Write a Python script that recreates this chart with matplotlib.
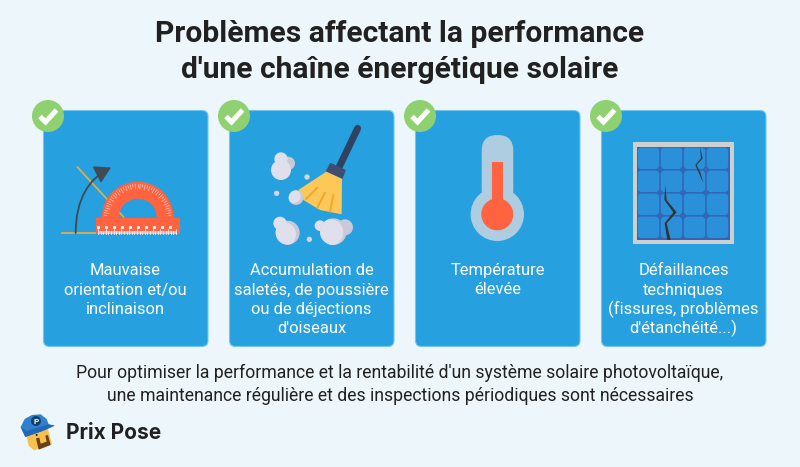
import numpy as np
import matplotlib
matplotlib.use('Agg')
import matplotlib.pyplot as plt
from matplotlib.patches import Circle, FancyBboxPatch, Polygon, Rectangle, Wedge, FancyArrowPatch
from matplotlib.path import Path

plt.rcParams['font.family'] = ['Roboto', 'DejaVu Sans']

BG = '#edf6fa'
CARD = '#27a0df'
CARD_EDGE = '#74c6f0'
GREEN = '#8fd170'
RED = '#ff6340'
CLOUD = '#e0e0ec'
CLOUD_DARK = '#c9c9da'
INK = '#212121'

title_lines = ["Problèmes affectant la performance", "d'une chaîne énergétique solaire"]
title_y = [33.5, 69.5]
card_left = [43, 229, 415, 601]
card_labels = [
    ["Mauvaise", "orientation et/ou", "inclinaison"],
    ["Accumulation de", "saletés, de poussière", "ou de déjections", "d'oiseaux"],
    ["Température", "élevée"],
    ["Défaillances", "techniques", "(fissures, problèmes", "d'étanchéité...)"],
]
label_y = [270.5, 290, 309.5, 328.5]
footer_lines = ["Pour optimiser la performance et la rentabilité d'un système solaire photovoltaïque,",
                "une maintenance régulière et des inspections périodiques sont nécessaires"]
footer_y = [373, 396]
brand = "Prix Pose"

fig = plt.figure(figsize=(8, 4.67), dpi=100, facecolor=BG)
ax = fig.add_axes([0, 0, 1, 1])
ax.set_xlim(0, 800)
ax.set_ylim(467, 0)
ax.axis('off')


# les icones sont relevees sur des zooms x3 du modele
def broom_xy(x, y):
    return 220 + x / 3, 95 + y / 3


def panel_xy(x, y):
    return 410 + x / 3, 95 + y / 3


def logo_xy(x, y):
    return 10 + x / 3, 405 + y / 3


def blob(x, y, r, color, z):
    p = Circle(broom_xy(x, y), r / 3, fc=color, ec='none', zorder=z)
    ax.add_patch(p)
    return p


for t, y in zip(title_lines, title_y):
    ax.text(400, y, t, ha='center', va='center', fontsize=21.6, fontweight='bold', color=INK)

# --- cartes ---
for x, lines in zip(card_left, card_labels):
    ax.add_patch(FancyBboxPatch((x + 0.5, 110.5), 164.5, 236, boxstyle='round,pad=0,rounding_size=6',
                                fc=CARD, ec=CARD_EDGE, lw=0.8, zorder=1))
    for line, y in zip(lines, label_y):
        ax.text(x + 82.5, y, line, ha='center', va='center', fontsize=11.85, color='white', zorder=5)
    cx, cy = x + 5, 116
    ax.add_patch(Circle((cx, cy), 16, fc=GREEN, ec='none', zorder=6))
    ax.plot([cx - 8, cx - 2.5, cx + 8.5], [cy + 0.5, cy + 6, cy - 6], color='white', lw=3.6,
            solid_joinstyle='miter', solid_capstyle='butt', zorder=7)

# --- rapporteur ---
ax.plot([62.3, 97], [233.3, 233.3], color='#f0ad3c', lw=1.2, zorder=2)
ax.plot([77.3, 123.5], [167, 217], color='#f0ad3c', lw=1.2, zorder=2)
ax.add_patch(FancyArrowPatch(path=Path([(75.7, 233), (75.7, 198), (90, 178), (111, 167.5)],
                                       [Path.MOVETO, Path.CURVE4, Path.CURVE4, Path.CURVE4]),
                             arrowstyle='-|>,head_length=6,head_width=3.5', color='#3f4a55', lw=1.3, zorder=3,
                             shrinkA=0, shrinkB=0, mutation_scale=1.6))
ax.add_patch(Wedge((137.7, 217.7), 36, 180, 360, width=17, fc=RED, ec='none', zorder=3))
ax.add_patch(Rectangle((96, 217.7), 83.5, 16.3, fc=RED, ec='none', zorder=3))
ax.add_patch(Rectangle((98, 230.5), 79, 3.5, fc='#ffb6a4', ec='none', zorder=4))
for a in np.arange(4, 180, 4.3):
    ang = np.radians(a)
    inner = 29 if round(a / 4.3) % 2 == 0 else 31
    ax.plot([137.7 + inner * np.cos(ang), 137.7 + 33.5 * np.cos(ang)],
            [217.7 - inner * np.sin(ang), 217.7 - 33.5 * np.sin(ang)], color='white', lw=0.5, alpha=0.7, zorder=4)
for i, x in enumerate(np.arange(98, 178, 2.6)):
    h = 5 if i % 3 == 0 else 3
    ax.plot([x, x], [234, 234 - h], color='white', lw=0.6, alpha=0.85, zorder=4)
for x in np.arange(98, 178, 8):
    ax.plot([x], [226.5], 's', color='white', ms=1.2, alpha=0.85, zorder=4)

# --- balai ---
ax.plot(*zip(broom_xy(413, 100), broom_xy(358, 215)), color='#2f4260', lw=5, solid_capstyle='round', zorder=3)
ax.add_patch(Polygon([broom_xy(*p) for p in [(235, 285), (322, 228), (366, 250), (365, 358), (300, 345), (250, 315)]],
                     fc='#fdc858', ec='none', zorder=3))
ax.add_patch(Polygon([broom_xy(*p) for p in [(332, 206), (375, 226), (366, 249), (320, 228)]], fc='#3e4e70',
                     ec='#3e4e70', lw=1, joinstyle='round', zorder=4))
for a, b in [((292, 278), (258, 312)), ((315, 293), (292, 338)), ((340, 300), (330, 350))]:
    ax.plot(*zip(broom_xy(*a), broom_xy(*b)), color='#f0a92e', lw=1.5, solid_capstyle='round', zorder=4)

blob(205, 205, 20, CLOUD_DARK, 3)
blob(183, 225, 30, CLOUD, 4)
blob(183, 192, 20, CLOUD, 4)
blob(375, 397, 24, CLOUD_DARK, 3)
blob(300, 392, 16, CLOUD, 4)
blob(180, 385, 20, CLOUD, 5)
dark = blob(203, 413, 36, CLOUD_DARK, 4)
blob(192, 418, 36, CLOUD, 4.5).set_clip_path(dark)
dark = blob(340, 410, 40, CLOUD_DARK, 4)
blob(330, 412, 40, CLOUD, 4.5).set_clip_path(dark)
dark = blob(228, 308, 22, CLOUD_DARK, 5)
blob(222, 304, 20, CLOUD, 5.5).set_clip_path(dark)
for x, y in [(261, 246), (170, 295), (268, 433)]:
    blob(x, y, 8, '#d4d4e2', 4)

# --- thermometre ---
ax.add_patch(Circle((497.3, 214.3), 26.7, fc='#afcde0', ec='none', zorder=2))
ax.add_patch(FancyBboxPatch((481.7, 135), 31.6, 70, boxstyle='round,pad=0,rounding_size=15.8',
                            fc='#afcde0', ec='none', zorder=2))
ax.add_patch(Rectangle((492, 162), 10.8, 50, fc=RED, ec='none', zorder=3))
ax.add_patch(Circle((497.3, 214.3), 16, fc=RED, ec='none', zorder=3))

# --- panneau solaire ---
ax.add_patch(Rectangle((632.7, 142.3), 101.3, 101.3, fc='#cfcfcf', ec='none', zorder=2))
ax.add_patch(Rectangle((636.7, 146.7), 93.3, 93.3, fc='#3166b8', ec='none', zorder=3))
pitch = 23
for i in range(4):
    for j in range(4):
        ax.add_patch(FancyBboxPatch((637.8 + i * pitch, 147.6 + j * pitch), pitch - 1.6, pitch - 1.6,
                                    boxstyle='round,pad=0,rounding_size=3.5', fc='#2a90da', ec='none', zorder=4))
for i in range(1, 4):
    for j in range(1, 4):
        ax.add_patch(Circle((636.7 + i * pitch + 0.3, 146.7 + j * pitch + 0.1), 2.8, fc='#3166b8', ec='none', zorder=5))
crack_a = [(870, 155), (878, 190), (860, 210), (872, 235), (880, 265), (868, 237), (856, 210), (873, 190)]
crack_b = [(766, 270), (770, 315), (800, 352), (770, 385), (782, 435), (772, 435), (764, 385), (790, 352), (763, 315)]
for crack in (crack_a, crack_b):
    ax.add_patch(Polygon([panel_xy(*p) for p in crack], fc='#333333', ec='none', zorder=6))

for t, y in zip(footer_lines, footer_y):
    ax.text(400, y, t, ha='center', va='center', fontsize=12.7, color=INK)

# --- logo ---
ax.add_patch(Polygon([logo_xy(*p) for p in [(48, 85), (112, 66), (126, 118), (72, 136), (56, 122)]],
                     fc='#f9c04d', ec='none', zorder=2))
ax.add_patch(Polygon([logo_xy(*p) for p in [(78, 100), (88, 98), (92, 116), (110, 110), (106, 92), (114, 90),
                                            (122, 120), (86, 134)]], fc='#6b3f18', ec='none', zorder=3))
ax.add_patch(Circle(logo_xy(80, 90), 1, fc='#222222', ec='none', zorder=4))
cap = [(32, 66), (44, 42), (66, 30), (92, 28), (110, 42), (116, 58), (134, 62), (98, 78), (46, 96)]
ax.add_patch(Polygon([logo_xy(*p) for p in cap], fc='#2f80d0', ec='none', zorder=5))
ax.add_patch(Polygon([logo_xy(*p) for p in [(32, 66), (46, 96), (98, 78), (134, 62), (116, 58), (50, 78)]],
                     fc='#2368b4', ec='none', zorder=6))
ax.add_patch(Circle(logo_xy(78, 48), 5, fc='#123f70', ec='none', zorder=6))
ax.text(*logo_xy(78, 48), 'P', color='white', fontsize=6, fontweight='bold', ha='center', va='center', zorder=7)
ax.text(65.5, 433, brand, ha='left', va='center', fontsize=15, fontweight='bold', color=INK,
        family=['Inter', 'DejaVu Sans'])

fig.savefig('out.png', dpi=100, facecolor=BG)
